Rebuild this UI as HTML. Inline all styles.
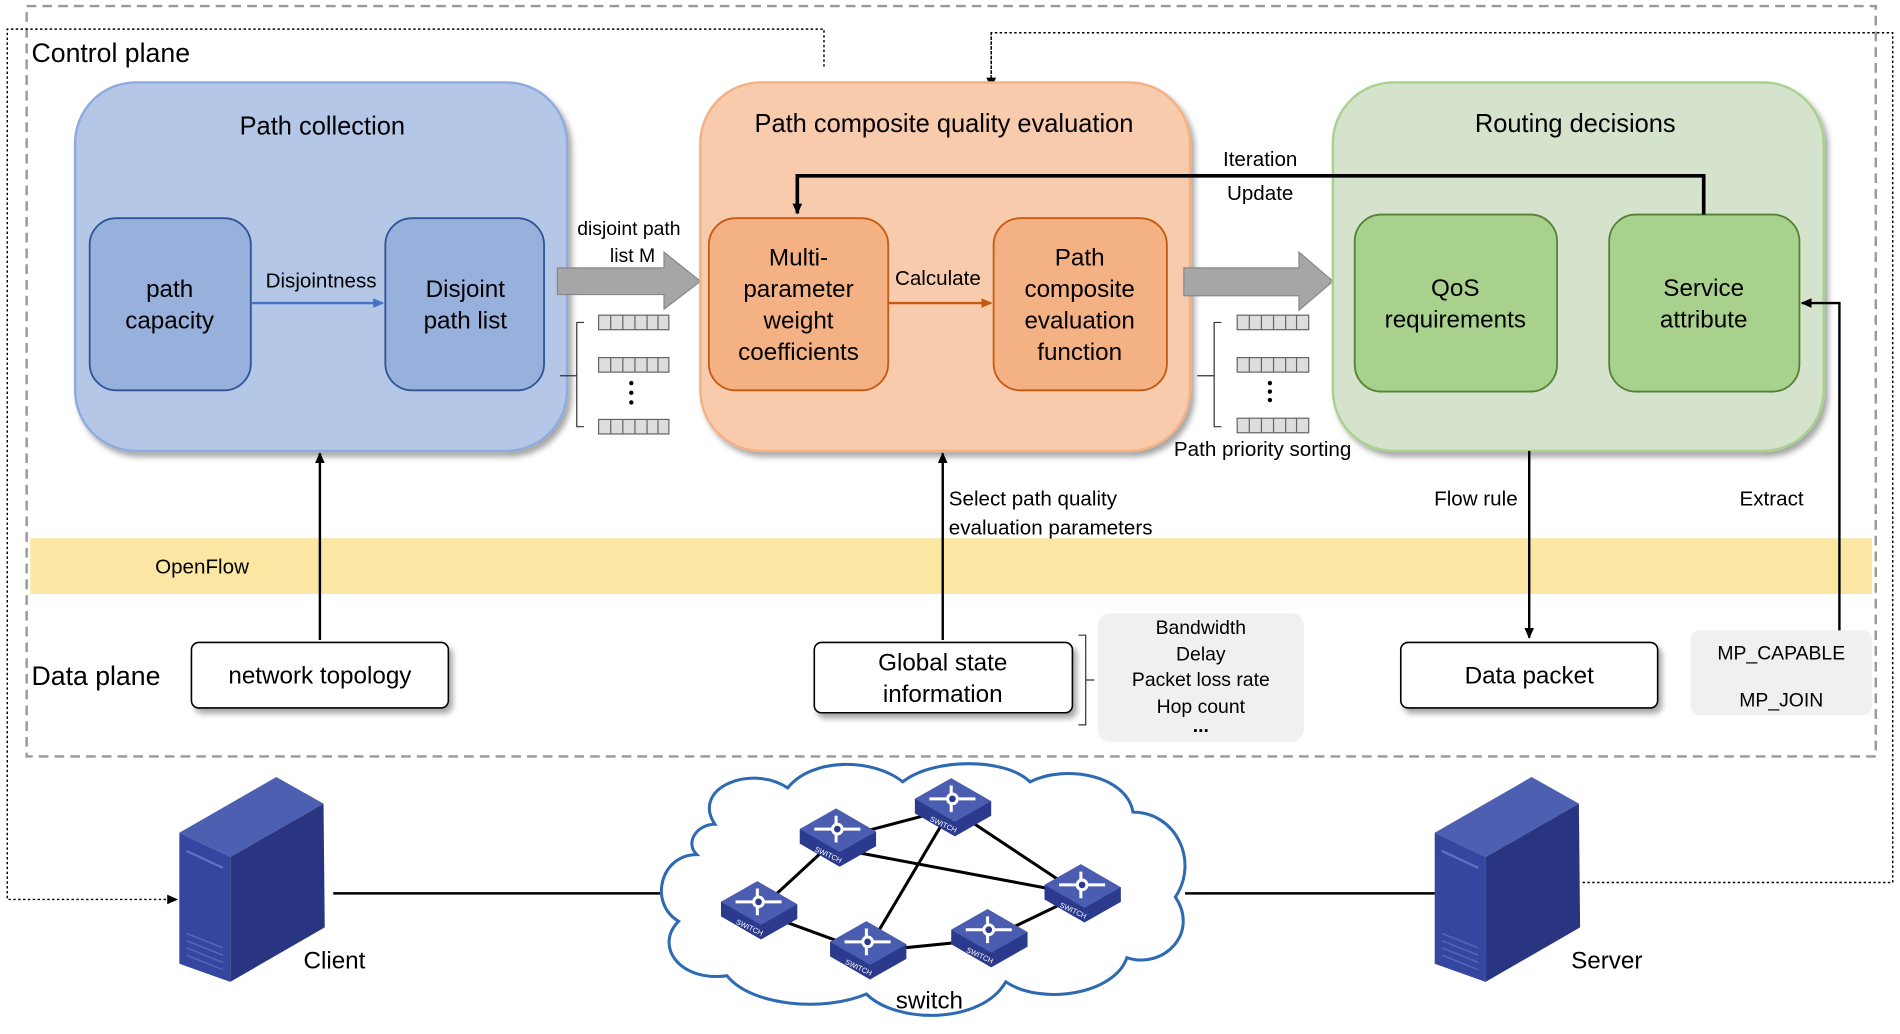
<!DOCTYPE html>
<html><head><meta charset="utf-8"><style>
html,body{margin:0;padding:0;background:#fff}
svg{display:block}
text{font-family:"Liberation Sans",Arial,sans-serif;fill:#000}
</style></head><body>
<svg width="1900" height="1034" viewBox="0 0 1568 853" preserveAspectRatio="none" xmlns="http://www.w3.org/2000/svg">
<defs>
<marker id="ak" markerWidth="10" markerHeight="10" refX="8" refY="5" orient="auto" markerUnits="userSpaceOnUse"><path d="M0,1 L9,5 L0,9 z" fill="#000"/></marker>
<marker id="ab" markerWidth="10" markerHeight="10" refX="8" refY="5" orient="auto" markerUnits="userSpaceOnUse"><path d="M0,1 L9,5 L0,9 z" fill="#4472c4"/></marker>
<marker id="ao" markerWidth="10" markerHeight="10" refX="8" refY="5" orient="auto" markerUnits="userSpaceOnUse"><path d="M0,1 L9,5 L0,9 z" fill="#c55a11"/></marker>
<filter id="sh" x="-10%" y="-10%" width="130%" height="130%"><feDropShadow dx="3" dy="4" stdDeviation="2.5" flood-color="#000" flood-opacity="0.35"/></filter>
<g id="sw">
<path d="M-30,-8 L0,-25 L33,-6 L33,6 L3,23 L-30,4 z" fill="#2b3a8c"/>
<path d="M-30,-8 L0,-25 L33,-6 L3,11 z" fill="#4a5db0"/>
<g stroke="#fff" stroke-width="2.5" fill="none"><path d="M-18,-8 L20,-8 M0,-19 L0,3"/><circle cx="1" cy="-8" r="4" fill="#2b3a8c"/></g>
<text x="-18" y="10" font-size="6" transform="rotate(25 -18 10)" style="fill:#fff">SWITCH</text>
</g>
<g id="srv">
<path d="M0,47 L80,1 L119,23 L42,67 z" fill="#4d5fb0"/>
<path d="M42,67 L119,23 L120,125 L42,170 z" fill="#2a3582"/>
<path d="M0,47 L42,67 L42,170 L0,155 z" fill="#3546a0"/>
<path d="M6,62 L36,76" stroke="#6070c0" stroke-width="2"/>
<g stroke="#5565b8" stroke-width="1.2"><path d="M6,130 L36,142 M6,136 L36,148 M6,142 L36,154 M6,148 L36,160"/></g>
</g>
</defs>

<!-- outer dashed -->
<rect x="22" y="5" width="1526" height="619" fill="none" stroke="#999" stroke-width="2" stroke-dasharray="8,5"/>
<!-- dotted connectors -->
<path d="M680,55 L680,24 L6,24 L6,742 L146,742" fill="none" stroke="#000" stroke-width="1.2" stroke-dasharray="2,2" marker-end="url(#ak)"/>
<path d="M818,72 L818,27 L1562,27 L1562,728 L1305,728" fill="none" stroke="#000" stroke-width="1.2" stroke-dasharray="2,2"/>
<path d="M818,27 L818,72" stroke="#000" stroke-width="1.2" stroke-dasharray="2,2" marker-end="url(#ak)"/>
<text x="26" y="51" font-size="22">Control plane</text>

<!-- openflow -->
<rect x="25" y="444" width="1520" height="46" fill="#fce6a4"/>
<text x="128" y="473" font-size="17">OpenFlow</text>

<!-- blue -->
<rect x="62" y="68" width="406" height="304" rx="50" fill="#b4c7e7" stroke="#8faadc" stroke-width="2" filter="url(#sh)"/>
<text x="266" y="111" font-size="21" text-anchor="middle">Path collection</text>
<rect x="74" y="180" width="133" height="142" rx="22" fill="#97b0dc" stroke="#2f5597" stroke-width="1.5"/>
<text x="140" y="245" font-size="20" text-anchor="middle">path</text>
<text x="140" y="271" font-size="20" text-anchor="middle">capacity</text>
<rect x="318" y="180" width="131" height="142" rx="22" fill="#97b0dc" stroke="#2f5597" stroke-width="1.5"/>
<text x="384" y="245" font-size="20" text-anchor="middle">Disjoint</text>
<text x="384" y="271" font-size="20" text-anchor="middle">path list</text>
<line x1="207" y1="250" x2="316" y2="250" stroke="#4472c4" stroke-width="2" marker-end="url(#ab)"/>
<text x="265" y="237" font-size="17" text-anchor="middle">Disjointness</text>

<!-- gray arrow 1 -->
<path d="M460,221 L548,221 L548,208 L578,232 L548,255 L548,243 L460,243 z" fill="#a6a6a6" stroke="#888"/>
<text x="519" y="194" font-size="16" text-anchor="middle">disjoint path</text>
<text x="522" y="216" font-size="16" text-anchor="middle">list M</text>
<!-- list 1 -->
<g fill="#ddd" stroke="#666" stroke-width="1">
<rect x="494" y="260" width="58" height="12"/><rect x="494" y="295" width="58" height="12"/><rect x="494" y="346" width="58" height="12"/>
</g>
<g stroke="#666" stroke-width="1">
<path d="M504,260v12M514,260v12M524,260v12M534,260v12M543,260v12M504,295v12M514,295v12M524,295v12M534,295v12M543,295v12M504,346v12M514,346v12M524,346v12M534,346v12M543,346v12"/>
</g>
<circle cx="521" cy="316" r="1.8"/><circle cx="521" cy="324" r="1.8"/><circle cx="521" cy="332" r="1.8"/>
<path d="M482,266 L476,266 L476,352 L482,352 M476,310 L462,310" fill="none" stroke="#333"/>

<!-- orange -->
<rect x="578" y="68" width="404" height="304" rx="50" fill="#f8cbad" stroke="#f4b183" stroke-width="2" filter="url(#sh)"/>
<text x="779" y="109" font-size="21" text-anchor="middle">Path composite quality evaluation</text>
<rect x="585" y="180" width="148" height="142" rx="22" fill="#f4b183" stroke="#c55a11" stroke-width="1.5"/>
<text x="659" y="219" font-size="20" text-anchor="middle">Multi-</text>
<text x="659" y="245" font-size="20" text-anchor="middle">parameter</text>
<text x="659" y="271" font-size="20" text-anchor="middle">weight</text>
<text x="659" y="297" font-size="20" text-anchor="middle">coefficients</text>
<rect x="820" y="180" width="143" height="142" rx="22" fill="#f4b183" stroke="#c55a11" stroke-width="1.5"/>
<text x="891" y="219" font-size="20" text-anchor="middle">Path</text>
<text x="891" y="245" font-size="20" text-anchor="middle">composite</text>
<text x="891" y="271" font-size="20" text-anchor="middle">evaluation</text>
<text x="891" y="297" font-size="20" text-anchor="middle">function</text>
<line x1="733" y1="250" x2="818" y2="250" stroke="#c55a11" stroke-width="2" marker-end="url(#ao)"/>
<text x="774" y="235" font-size="17" text-anchor="middle">Calculate</text>

<!-- gray arrow 2 -->
<path d="M977,221 L1072,221 L1072,208 L1100,232 L1072,256 L1072,244 L977,244 z" fill="#a6a6a6" stroke="#888"/>
<g fill="#ddd" stroke="#666" stroke-width="1">
<rect x="1021" y="260" width="59" height="12"/><rect x="1021" y="295" width="59" height="12"/><rect x="1021" y="345" width="59" height="12"/>
</g>
<g stroke="#666" stroke-width="1">
<path d="M1031,260v12M1041,260v12M1051,260v12M1061,260v12M1070,260v12M1031,295v12M1041,295v12M1051,295v12M1061,295v12M1070,295v12M1031,345v12M1041,345v12M1051,345v12M1061,345v12M1070,345v12"/>
</g>
<circle cx="1048" cy="316" r="1.8"/><circle cx="1048" cy="323" r="1.8"/><circle cx="1048" cy="330" r="1.8"/>
<path d="M1008,266 L1002,266 L1002,352 L1008,352 M1002,310 L988,310" fill="none" stroke="#333"/>
<text x="1042" y="376" font-size="17" text-anchor="middle">Path priority sorting</text>

<!-- green -->
<rect x="1100" y="68" width="405" height="304" rx="50" fill="#d5e3cc" stroke="#a9d18e" stroke-width="2" filter="url(#sh)"/>
<text x="1300" y="109" font-size="21" text-anchor="middle">Routing decisions</text>
<rect x="1118" y="177" width="167" height="146" rx="22" fill="#a9d18e" stroke="#548235" stroke-width="1.5"/>
<text x="1201" y="244" font-size="20" text-anchor="middle">QoS</text>
<text x="1201" y="270" font-size="20" text-anchor="middle">requirements</text>
<rect x="1328" y="177" width="157" height="146" rx="22" fill="#a9d18e" stroke="#548235" stroke-width="1.5"/>
<text x="1406" y="244" font-size="20" text-anchor="middle">Service</text>
<text x="1406" y="270" font-size="20" text-anchor="middle">attribute</text>

<!-- iteration -->
<path d="M1406,177 L1406,145 L658,145 L658,176" fill="none" stroke="#000" stroke-width="3" marker-end="url(#ak)"/>
<text x="1040" y="137" font-size="17" text-anchor="middle">Iteration</text>
<text x="1040" y="165" font-size="17" text-anchor="middle">Update</text>

<!-- vertical arrows -->
<line x1="264" y1="528" x2="264" y2="374" stroke="#000" stroke-width="2" marker-end="url(#ak)"/>
<line x1="778" y1="528" x2="778" y2="374" stroke="#000" stroke-width="2" marker-end="url(#ak)"/>
<text x="783" y="417" font-size="17">Select path quality</text>
<text x="783" y="441" font-size="17">evaluation parameters</text>
<line x1="1262" y1="372" x2="1262" y2="526" stroke="#000" stroke-width="2" marker-end="url(#ak)"/>
<text x="1218" y="417" font-size="17" text-anchor="middle">Flow rule</text>
<path d="M1518,528 L1518,250 L1487,250" fill="none" stroke="#000" stroke-width="2" marker-end="url(#ak)"/>
<text x="1462" y="417" font-size="17" text-anchor="middle">Extract</text>

<!-- data plane -->
<text x="26" y="565" font-size="22">Data plane</text>
<rect x="158" y="530" width="212" height="54" rx="6" fill="#fff" stroke="#000" stroke-width="1.3" filter="url(#sh)"/>
<text x="264" y="564" font-size="20" text-anchor="middle">network topology</text>
<rect x="672" y="530" width="213" height="58" rx="6" fill="#fff" stroke="#000" stroke-width="1.3" filter="url(#sh)"/>
<text x="778" y="553" font-size="20" text-anchor="middle">Global state</text>
<text x="778" y="579" font-size="20" text-anchor="middle">information</text>
<path d="M890,524 L896,524 L896,598 L890,598 M896,561 L903,561" fill="none" stroke="#333"/>
<rect x="906" y="506" width="170" height="106" rx="10" fill="#f0f0f0"/>
<text x="991" y="523" font-size="16" text-anchor="middle">Bandwidth</text>
<text x="991" y="545" font-size="16" text-anchor="middle">Delay</text>
<text x="991" y="566" font-size="16" text-anchor="middle">Packet loss rate</text>
<text x="991" y="588" font-size="16" text-anchor="middle">Hop count</text>
<text x="991" y="604" font-size="16" text-anchor="middle" font-weight="bold">...</text>
<rect x="1156" y="530" width="212" height="54" rx="6" fill="#fff" stroke="#000" stroke-width="1.3" filter="url(#sh)"/>
<text x="1262" y="564" font-size="20" text-anchor="middle">Data packet</text>
<rect x="1395" y="520" width="150" height="70" rx="8" fill="#f0f0f0"/>
<text x="1470" y="544" font-size="16" text-anchor="middle">MP_CAPABLE</text>
<text x="1470" y="583" font-size="16" text-anchor="middle">MP_JOIN</text>

<!-- bottom network -->
<line x1="275" y1="737" x2="555" y2="737" stroke="#000" stroke-width="2"/>
<line x1="978" y1="737" x2="1185" y2="737" stroke="#000" stroke-width="2"/>
<path d="M590,680 C570,650 620,630 650,650 C670,625 720,625 745,645 C770,625 830,625 850,645 C880,630 930,640 935,670 C970,670 990,710 970,740 C990,770 960,800 930,790 C920,820 860,830 830,810 C810,845 740,845 715,820 C680,835 620,830 600,805 C560,810 540,780 560,760 C535,745 545,705 575,705 C565,695 575,680 590,680 z" fill="#fff" stroke="#2e6ab4" stroke-width="2.5"/>
<g stroke="#000" stroke-width="2.5">
<line x1="690" y1="692" x2="785" y2="667"/><line x1="690" y1="692" x2="625" y2="752"/><line x1="690" y1="700" x2="892" y2="738"/>
<line x1="785" y1="667" x2="892" y2="738"/><line x1="785" y1="667" x2="715" y2="785"/><line x1="625" y1="752" x2="715" y2="785"/>
<line x1="715" y1="785" x2="815" y2="775"/><line x1="815" y1="775" x2="892" y2="738"/>
</g>
<use href="#sw" x="690" y="692"/><use href="#sw" x="785" y="667"/><use href="#sw" x="625" y="752"/>
<use href="#sw" x="715" y="785"/><use href="#sw" x="815" y="775"/><use href="#sw" x="892" y="738"/>
<text x="767" y="832" font-size="20" text-anchor="middle">switch</text>
<use href="#srv" x="148" y="640"/>
<text x="276" y="799" font-size="20" text-anchor="middle">Client</text>
<use href="#srv" x="1184" y="640"/>
<text x="1326" y="799" font-size="20" text-anchor="middle">Server</text>
</svg>
</body></html>
